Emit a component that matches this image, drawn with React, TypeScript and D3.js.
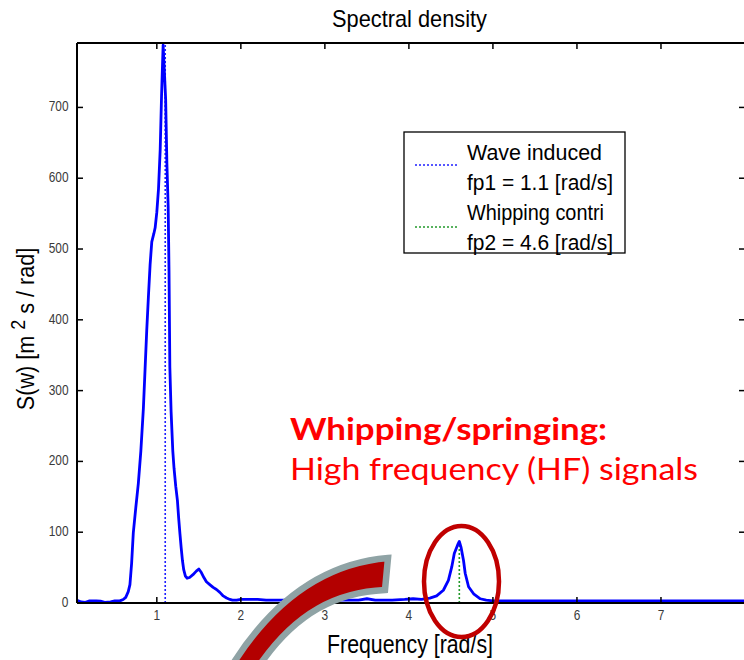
import React from 'react';
import * as d3 from 'd3';

// Spectral density S(w) sampled along frequency w [rad/s]
const freq = [
  0.05, 0.1, 0.15, 0.2, 0.28, 0.33, 0.38, 0.45, 0.5, 0.56, 0.6, 0.63, 0.66, 0.68,
  0.7, 0.72, 0.75, 0.78, 0.81, 0.84, 0.86, 0.88, 0.9, 0.92, 0.94, 0.965, 0.98,
  1.0, 1.02, 1.04, 1.056, 1.075, 1.09, 1.105, 1.12, 1.135, 1.145, 1.155, 1.17,
  1.19, 1.205, 1.225, 1.245, 1.26, 1.275, 1.29, 1.305, 1.32, 1.34, 1.36, 1.39,
  1.43, 1.47, 1.5, 1.53, 1.56, 1.59, 1.63, 1.67, 1.71, 1.75, 1.79, 1.83, 1.87,
  1.9, 1.95, 2.0, 2.2, 2.3, 2.6, 2.8, 3.0, 3.2, 3.4, 3.5, 3.6, 3.8, 3.95, 4.05,
  4.15, 4.25, 4.33, 4.41, 4.47, 4.51, 4.54, 4.58, 4.6, 4.62, 4.65, 4.67, 4.71,
  4.77, 4.85, 4.92, 5.0, 5.5, 6.0, 6.5, 7.0, 7.5, 8.0,
];
const density = [
  4, 1.5, 1, 3, 3, 2.5, 1, 1.5, 3, 3, 5, 8, 16, 26,
  56, 99, 135, 169, 215, 275, 330, 385, 433, 478, 510, 522, 530,
  552, 585, 640, 715, 788, 750, 712, 620, 560, 470, 333, 270,
  215, 190, 165, 145, 120, 98, 78, 60, 47, 38, 35, 36,
  40, 45, 48, 43, 36, 30, 26, 22, 19, 15, 10, 7, 5,
  4, 4, 5, 5, 4, 4, 4, 4, 4, 4, 6, 4, 4, 5, 6,
  5, 7, 10, 18, 32, 51, 70, 82, 87, 79, 60, 42, 23,
  13, 6, 4, 3, 3, 3, 3, 3, 3, 3,
];

// Peak frequencies marked with dotted lines
const peakFreqs = [1.1, 4.6];
const peakColors = ['#1f1fff', '#22992a'];
const legendLabels = [
  ['Wave induced', 'fp1 = 1.1 [rad/s]'],
  ['Whipping contri', 'fp2 = 4.6 [rad/s]'],
];
const legendWidths = [[135, 146], [137, 146]];

const xTicks = [1, 2, 3, 4, 5, 6, 7];
const yTicks = [0, 100, 200, 300, 400, 500, 600, 700];

const W = 744;
const H = 660;
const LEFT = 77;
const RIGHT = 745;
const TOP = 43;
const BOTTOM = 603;

const axisFont = '"Liberation Sans", Arial, sans-serif';

export default function App() {
  const x = d3.scaleLinear().domain([0.05, 8]).range([LEFT, RIGHT]);
  const y = d3.scaleLinear().domain([0, 791]).range([BOTTOM, TOP]);

  const pts: [number, number][] = freq.map((f, i) => [f, density[i]]);
  const line = d3
    .line<[number, number]>()
    .x((d) => x(d[0]))
    .y((d) => y(d[1]));

  const peakHeight = (fp: number) =>
    d3.max(pts.filter((p) => Math.abs(p[0] - fp) < 0.1), (p) => p[1]) ?? 0;

  const tickLabel = (s: string, cx: number, cy: number, anchor: string) => (
    <text
      key={s + cx + cy}
      transform={`translate(${cx},${cy}) scale(0.85,1)`}
      textAnchor={anchor}
      fontFamily={axisFont}
      fontSize={14}
      fill="#3a3a3a"
    >
      {s}
    </text>
  );

  return (
    <svg
      width={W}
      height={H}
      viewBox={`0 0 ${W} ${H}`}
      style={{ position: 'absolute', left: 0, top: 0, background: '#fff' }}
    >
      <rect x={0} y={0} width={W} height={H} fill="#fff" />

      {/* title */}
      <text
        x={409.5}
        y={27}
        textAnchor="middle"
        fontFamily={axisFont}
        fontSize={24}
        textLength={155}
        lengthAdjust="spacingAndGlyphs"
      >
        Spectral density
      </text>

      {/* y axis label */}
      <g transform="translate(34,329) rotate(-90)">
        <g transform="scale(0.9,1)">
          <text textAnchor="middle" fontFamily={axisFont} fontSize={24} fill="#000">
            <tspan>S(w) [m </tspan>
            <tspan dy={-9} fontSize={20}>2</tspan>
            <tspan dy={9}> s / rad]</tspan>
          </text>
        </g>
      </g>

      {/* x axis label */}
      <text
        x={410}
        y={652.5}
        textAnchor="middle"
        fontFamily={axisFont}
        fontSize={26}
        textLength={166}
        lengthAdjust="spacingAndGlyphs"
      >
        Frequency [rad/s]
      </text>

      {/* dotted peak markers */}
      {peakFreqs.map((fp, i) => (
        <line
          key={'pk' + i}
          x1={x(fp)}
          x2={x(fp)}
          y1={y(0)}
          y2={y(peakHeight(fp))}
          stroke={peakColors[i]}
          strokeWidth={1.6}
          strokeDasharray="2,2"
        />
      ))}

      {/* spectrum curve */}
      <path d={line(pts) ?? ''} fill="none" stroke="#0000ff" strokeWidth={2.8} strokeLinejoin="round" />

      {/* axes box */}
      <g stroke="#000" strokeWidth={2} fill="none">
        <line x1={LEFT} x2={RIGHT + 5} y1={TOP} y2={TOP} />
        <line x1={LEFT} x2={RIGHT + 5} y1={BOTTOM} y2={BOTTOM} />
        <line x1={LEFT} x2={LEFT} y1={TOP} y2={BOTTOM} />
        <line x1={RIGHT} x2={RIGHT} y1={TOP} y2={BOTTOM} />
      </g>
      <g stroke="#000" strokeWidth={1.5}>
        {xTicks.map((t) => (
          <g key={'xt' + t}>
            <line x1={x(t)} x2={x(t)} y1={BOTTOM} y2={BOTTOM - 6} />
            <line x1={x(t)} x2={x(t)} y1={TOP} y2={TOP + 6} />
          </g>
        ))}
        {yTicks.map((t) => (
          <g key={'yt' + t}>
            <line x1={LEFT} x2={LEFT + 6} y1={y(t)} y2={y(t)} />
            <line x1={RIGHT} x2={RIGHT - 6} y1={y(t)} y2={y(t)} />
          </g>
        ))}
      </g>
      {xTicks.map((t) => tickLabel(String(t), x(t), 620, 'middle'))}
      {yTicks.map((t) => tickLabel(String(t), 68.5, y(t) + 4, 'end'))}

      {/* legend */}
      <rect x={404} y={132} width={221} height={121} fill="#fff" stroke="#000" strokeWidth={1.3} />
      {legendLabels.map((lines, i) => (
        <g key={'lg' + i}>
          <line
            x1={415}
            x2={459}
            y1={165 + i * 62}
            y2={165 + i * 62}
            stroke={peakColors[i]}
            strokeWidth={1.5}
            strokeDasharray="2,2"
          />
          {lines.map((s, j) => (
            <text
              key={s}
              x={467}
              y={160 + i * 60 + j * 30}
              fontFamily={axisFont}
              fontSize={22}
              textLength={legendWidths[i][j]}
              lengthAdjust="spacingAndGlyphs"
            >
              {s}
            </text>
          ))}
        </g>
      ))}

      {/* annotation */}
      <text
        x={290}
        y={440}
        fontFamily="Lato, 'Open Sans', sans-serif"
        fontWeight="bold"
        fontSize={31}
        fill="#ff0000"
        textLength={317}
        lengthAdjust="spacingAndGlyphs"
      >
        Whipping/springing:
      </text>
      <text
        x={290}
        y={480}
        fontFamily="Lato, 'Open Sans', sans-serif"
        fontSize={31}
        fill="#ff0000"
        textLength={408}
        lengthAdjust="spacingAndGlyphs"
      >
        High frequency (HF) signals
      </text>

      <ellipse cx={461.5} cy={581.5} rx={37.5} ry={55.5} fill="none" stroke="#c00000" strokeWidth={4.5} />

      <path
        d="M388,558 C340,562 280,585 228,672 L255,672 C295,610 340,592 385,590 Z"
        fill="#b30000"
        stroke="#8fa3a5"
        strokeWidth={6.5}
        strokeLinejoin="miter"
      />
    </svg>
  );
}
